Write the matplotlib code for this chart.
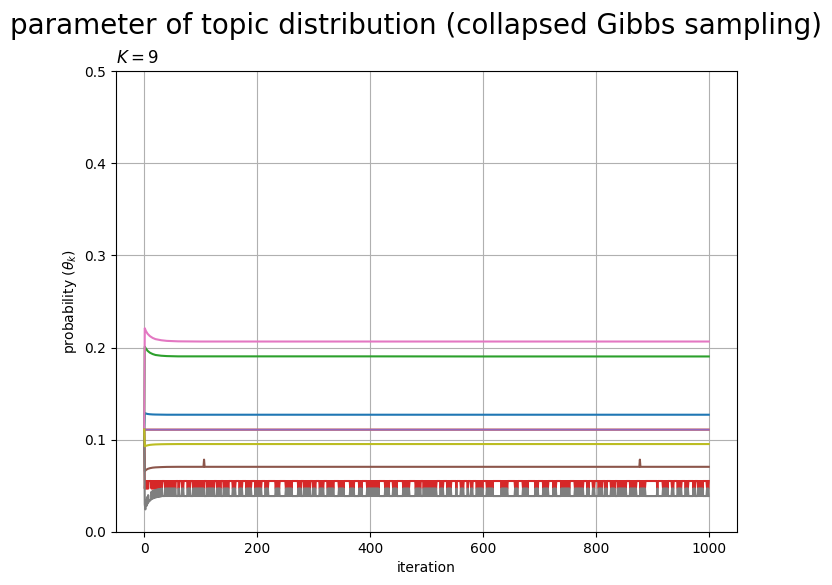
import numpy as np
import matplotlib.pyplot as plt

K = 9
n_iter = 1000

# smooth topics: (iteration, theta) key points
it_keys = [0, 1, 3, 6, 10, 15, 20, 30, 40, 60, 100, 200, 400, 600, 800, 1000]
theta_blue   = [0.1111, 0.1290, 0.1285, 0.1280, 0.1277, 0.1275, 0.1274, 0.1273, 0.1272, 0.1272, 0.1272, 0.1272, 0.1272, 0.1272, 0.1272, 0.1272]
theta_orange = [0.1111, 0.1110, 0.1110, 0.1110, 0.1110, 0.1110, 0.1110, 0.1110, 0.1110, 0.1110, 0.1110, 0.1110, 0.1110, 0.1110, 0.1110, 0.1110]
theta_green  = [0.1111, 0.2010, 0.1990, 0.1965, 0.1945, 0.1930, 0.1920, 0.1912, 0.1908, 0.1905, 0.1905, 0.1905, 0.1905, 0.1904, 0.1904, 0.1904]
theta_purple = [0.1111, 0.1110, 0.1110, 0.1110, 0.1110, 0.1110, 0.1110, 0.1110, 0.1110, 0.1110, 0.1110, 0.1110, 0.1110, 0.1110, 0.1110, 0.1110]
theta_pink   = [0.1111, 0.2210, 0.2180, 0.2150, 0.2125, 0.2105, 0.2092, 0.2080, 0.2073, 0.2068, 0.2066, 0.2066, 0.2066, 0.2066, 0.2066, 0.2066]
theta_olive  = [0.1111, 0.0930, 0.0935, 0.0940, 0.0945, 0.0948, 0.0950, 0.0952, 0.0953, 0.0954, 0.0954, 0.0954, 0.0954, 0.0954, 0.0954, 0.0954]

# brown has two short spikes
it_brown    = [0, 1, 3, 6, 10, 15, 20, 30, 40, 60, 105, 106, 107, 200, 400, 600, 877, 878, 879, 1000]
theta_brown = [0.1111, 0.0660, 0.0672, 0.0684, 0.0692, 0.0698, 0.0701, 0.0704, 0.0706, 0.0707, 0.0707, 0.0785, 0.0707,
               0.0707, 0.0707, 0.0707, 0.0707, 0.0785, 0.0707, 0.0707]

# red / gray: one token flips between the two topics
red_high, red_low = 0.0553, 0.0471
gray_gap = 0.0082
gray_start = [0.1111, 0.0220, 0.0245, 0.0265, 0.0282, 0.0296, 0.0308, 0.0318, 0.0327, 0.0334,
              0.0340, 0.0346, 0.0351, 0.0355, 0.0359, 0.0362, 0.0365, 0.0368, 0.0370, 0.0372,
              0.0374, 0.0376, 0.0377, 0.0379, 0.0380, 0.0381, 0.0382, 0.0383, 0.0384, 0.0385,
              0.0386]
gray_low = 0.0390
# stretches where the token stays put (white gaps in the band)
gaps = [(8, 11), (32, 36), (56, 60), (62, 66), (71, 75), (82, 86), (106, 110), (124, 128), (136, 140),
        (151, 155), (163, 167), (175, 179), (191, 196), (209, 214), (221, 231), (241, 249), (262, 271),
        (278, 282), (294, 298), (305, 309), (318, 323), (336, 343), (355, 364), (372, 379), (387, 394),
        (416, 426), (434, 439), (449, 458), (470, 480), (490, 494), (519, 523), (531, 536), (544, 551),
        (555, 559), (566, 572), (574, 578), (583, 587), (601, 605), (619, 625), (627, 631), (645, 655),
        (663, 669), (681, 691), (698, 705), (716, 723), (730, 737), (754, 762), (778, 783), (789, 793),
        (799, 803), (812, 816), (821, 825), (834, 838), (855, 859), (872, 877), (888, 907), (911, 918),
        (929, 934), (938, 944), (952, 957), (965, 971), (977, 980), (991, 996)]

iters = np.arange(n_iter + 1)
flip = (iters % 2 == 1).astype(float)
for a, b in gaps:
    flip[a:b + 1] = 0.0

gray_base = np.full(n_iter + 1, gray_low)
gray_base[:len(gray_start)] = gray_start
theta_gray = gray_base + gray_gap * flip
theta_red = red_high - (red_high - red_low) * flip
theta_gray[0] = 0.1111
theta_red[0] = 0.1111

fig = plt.figure(figsize=(8.32, 5.85), dpi=100)
ax = fig.add_axes([0.1394, 0.0906, 0.7464, 0.788])

ax.plot(it_keys, theta_blue, color='C0')
ax.plot(it_keys, theta_orange, color='C1')
ax.plot(it_keys, theta_green, color='C2')
ax.plot(iters, theta_red, color='C3')
ax.plot(it_keys, theta_purple, color='C4')
ax.plot(it_brown, theta_brown, color='C5')
ax.plot(it_keys, theta_pink, color='C6')
ax.plot(iters, theta_gray, color='C7')
ax.plot(it_keys, theta_olive, color='C8')

ax.set_ylim(0.0, 0.5)
ax.set_xlabel('iteration')
ax.set_ylabel('probability ($\\theta_k$)')
ax.set_title('$K = ' + str(K) + '$', loc='left')
ax.grid()
fig.suptitle('parameter of topic distribution (collapsed Gibbs sampling)', fontsize=20)

fig.savefig('out.png')
